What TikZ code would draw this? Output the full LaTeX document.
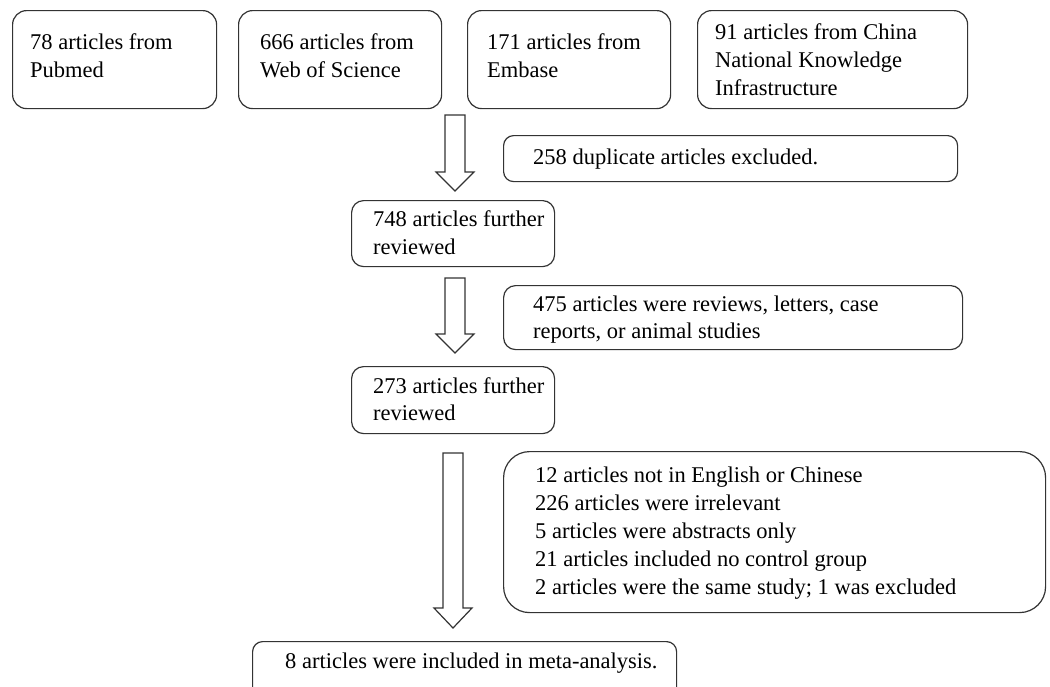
\documentclass[tikz,border=0pt]{standalone}
\usepackage{fontspec}
\setmainfont{Liberation Serif}
\begin{document}
\begin{tikzpicture}[x=1pt,y=-1pt,
  box/.style={draw=black!80, line width=1.2pt, rounded corners=14pt, anchor=north west, inner sep=0pt, fill=white},
  txt/.style={anchor=west, align=left, inner sep=0pt, font=\fontsize{22.5}{27.8}\selectfont},
  arr/.style={draw=black!80, line width=1.2pt, fill=white, line join=miter}]
\clip (0,0) rectangle (1050,686);
\fill[white] (0,0) rectangle (1050,686);
\newcommand\mkbox[6]{%
  \node[box,#6, minimum width=#4pt-#2pt, minimum height=#5pt-#3pt] (#1) at (#2,#3) {};}
% top row
\mkbox{b1}{12}{10}{216}{108}{}
\mkbox{b2}{238}{10}{441}{108}{}
\mkbox{b3}{467}{10}{670}{108}{}
\mkbox{b4}{697}{10}{967}{108}{}
\node[txt] (t1) at ([xshift=18pt,yshift=4pt]b1.west) {78 articles from\\Pubmed};
\node[txt] (t2) at ([xshift=22pt,yshift=4pt]b2.west) {666 articles from\\Web of Science};
\node[txt] (t3) at ([xshift=20pt,yshift=4pt]b3.west) {171 articles from\\Embase};
\node[txt] (t4) at ([xshift=18pt]b4.west) {91 articles from China\\National Knowledge\\Infrastructure};
% exclusions
\mkbox{e1}{503}{135}{957}{181}{rounded corners=10pt}
\node[txt] (te1) at ([xshift=30pt]e1.west) {258 duplicate articles excluded.};
\mkbox{e2}{503}{285}{962}{349}{rounded corners=12pt}
\node[txt] (te2) at ([xshift=30pt,yshift=-2pt]e2.west) {475 articles were reviews, letters, case\\reports, or animal studies};
\mkbox{e3}{503}{451}{1045}{612}{rounded corners=26pt}
\node[txt] (te3) at ([xshift=32pt,yshift=-1pt]e3.west) {12 articles not in English or Chinese\\226 articles were irrelevant\\5 articles were abstracts only\\21 articles included no control group\\2 articles were the same study; 1 was excluded};
% flow
\mkbox{r1}{351}{200}{554}{266}{rounded corners=12pt}
\node[txt] (tr1) at ([xshift=22pt,yshift=1pt]r1.west) {748 articles further\\reviewed};
\mkbox{r2}{351}{366}{554}{433}{rounded corners=12pt}
\node[txt] (tr2) at ([xshift=22pt,yshift=1pt]r2.west) {273 articles further\\reviewed};
\mkbox{fin}{252}{641}{676}{706}{rounded corners=10pt}
\node[txt] (tfin) at (285,663) {8 articles were included in meta-analysis.};
% block arrows
\newcommand\blockarrow[4]{% x, top, headbase, tip
  \draw[arr] (#1-10,#2) -- (#1+10,#2) -- (#1+10,#3) -- (#1+19,#3) -- (#1,#4) -- (#1-19,#3) -- (#1-10,#3) -- cycle;}
\coordinate (a1s) at (455,115); \coordinate (a1e) at (455,191);
\blockarrow{455}{115}{172}{191}
\coordinate (a2s) at (455,278); \coordinate (a2e) at (455,353);
\blockarrow{455}{278}{334}{353}
\coordinate (a3s) at (453,453); \coordinate (a3e) at (453,628);
\blockarrow{453}{453}{608}{628}
\end{tikzpicture}
\end{document}
